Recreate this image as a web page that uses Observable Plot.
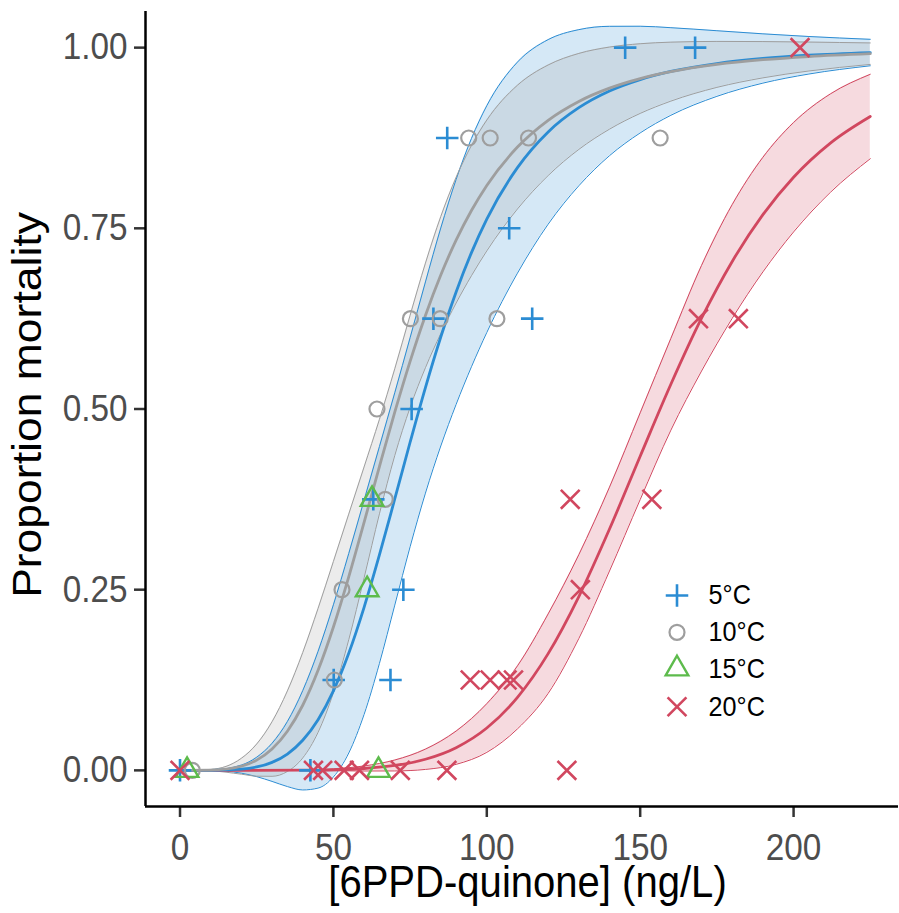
<!DOCTYPE html>
<html>
<head>
<meta charset="utf-8">
<script src="https://cdn.jsdelivr.net/npm/d3@7"></script>
<script src="https://cdn.jsdelivr.net/npm/@observablehq/plot@0.6"></script>
<style>html,body{margin:0;padding:0;background:#fff;}</style>
</head>
<body>
<div id="chart"></div>
<script>
// ---------------- data ----------------
const series = ["5°C", "10°C", "15°C", "20°C"];
const seriesColors = ["#2B8CD3", "#9E9E9E", "#5DBB4C", "#D1475F"];
const seriesSymbols = ["plus", "circle", "triangle2", "times"];

const xTicks = [0, 50, 100, 150, 200];
const yTicks = [0, 0.25, 0.5, 0.75, 1];
const xTitle = "[6PPD-quinone] (ng/L)";
const yTitle = "Proportion mortality";

// observed proportions
const obs5x  = [0, 42.5, 50.1, 68.6, 72.8, 63.0, 75.5, 82.6, 114.8, 107.3, 87.1, 145.1, 167.9];
const obs5y  = [0, 0, 0.125, 0.125, 0.25, 0.375, 0.5, 0.625, 0.625, 0.75, 0.875, 1, 1];
const obs10x = [4.0, 50.3, 52.8, 66.9, 64.2, 75.1, 84.8, 103.3, 94.1, 101.1, 113.6, 156.5];
const obs10y = [0, 0.125, 0.25, 0.375, 0.5, 0.625, 0.625, 0.625, 0.875, 0.875, 0.875, 0.875];
const obs15x = [2.3, 64.7, 61.0, 62.6];
const obs15y = [0, 0, 0.25, 0.375];
const obs20x = [0, 43.5, 46.5, 53.5, 58.5, 71.8, 87.0, 126.1, 94.6, 101.1, 106.6, 108.7, 130.5, 127.2, 153.8, 169.0, 182.0, 202.1];
const obs20y = [0, 0, 0, 0, 0, 0, 0, 0, 0.125, 0.125, 0.125, 0.125, 0.25, 0.375, 0.375, 0.625, 0.625, 1];

// fitted dose-response curves with confidence bands
const curveX5 = [0, 10, 20, 25, 30, 35, 40, 45, 50, 55, 60, 65, 70, 75, 80, 85, 90, 95, 100, 110, 120, 130, 140, 150, 160, 175, 190, 205, 225];
const fit5 = [0, 0.0001, 0.0017, 0.0047, 0.0111, 0.0226, 0.0416, 0.0701, 0.110, 0.162, 0.2256, 0.298, 0.3755, 0.454, 0.5297, 0.5996, 0.662, 0.7164, 0.7628, 0.834, 0.8834, 0.9169, 0.940, 0.9558, 0.967, 0.978, 0.985, 0.9895, 0.9932];
const lo5  = [0, -0.0002, -0.0039, -0.0087, -0.0153, -0.0224, -0.0271, -0.0245, -0.0091, 0.024, 0.0774, 0.148, 0.2286, 0.3094, 0.3836, 0.4488, 0.5064, 0.5585, 0.6059, 0.688, 0.7557, 0.8089, 0.8505, 0.882, 0.9064, 0.9326, 0.9509, 0.9635, 0.9749];
const hi5  = [0, 0.0004, 0.0073, 0.0182, 0.0375, 0.0676, 0.1103, 0.1647, 0.2291, 0.300, 0.3738, 0.448, 0.5224, 0.5986, 0.6758, 0.7504, 0.8176, 0.8743, 0.9197, 0.980, 1.0111, 1.0249, 1.0295, 1.0296, 1.0276, 1.0234, 1.0191, 1.0154, 1.0115];

const curveX10 = [0, 10, 20, 25, 30, 35, 40, 45, 50, 55, 60, 65, 70, 75, 80, 85, 90, 95, 100, 110, 120, 130, 140, 150, 160, 175, 190, 205, 225];
const fit10 = [0, 0.0003, 0.0057, 0.0142, 0.0296, 0.0542, 0.0901, 0.1384, 0.1983, 0.2677, 0.3431, 0.4203, 0.4956, 0.5659, 0.6295, 0.6854, 0.7336, 0.7746, 0.8093, 0.8624, 0.8995, 0.9256, 0.944, 0.9572, 0.9668, 0.9768, 0.9833, 0.9877, 0.9916];
const lo10  = [0, -0.0007, -0.0053, -0.008, -0.0082, -0.0015, 0.0172, 0.0527, 0.1076, 0.1808, 0.2664, 0.355, 0.4356, 0.5022, 0.5572, 0.6045, 0.6466, 0.6845, 0.7188, 0.7768, 0.823, 0.8592, 0.8872, 0.909, 0.926, 0.945, 0.9582, 0.9677, 0.9768];
const hi10  = [0, 0.0013, 0.0167, 0.0365, 0.0673, 0.1099, 0.163, 0.2241, 0.289, 0.3546, 0.4198, 0.4856, 0.5556, 0.6296, 0.7018, 0.7663, 0.8206, 0.8647, 0.8998, 0.948, 0.976, 0.992, 1.0008, 1.0054, 1.0076, 1.0086, 1.0084, 1.0077, 1.0065];

const curveX20 = [0, 20, 40, 50, 60, 70, 80, 90, 100, 110, 120, 130, 140, 150, 160, 170, 180, 190, 200, 212, 225];
const fit20 = [0, 0, 0.0002, 0.0008, 0.0026, 0.0068, 0.0154, 0.0314, 0.0586, 0.101, 0.1615, 0.2405, 0.3339, 0.4347, 0.5342, 0.6256, 0.7042, 0.769, 0.8207, 0.8679, 0.9047];
const lo20  = [0, 0, -0.0002, -0.0005, -0.0009, -0.0008, 0.0013, 0.0083, 0.0249, 0.0574, 0.1065, 0.1825, 0.2759, 0.3747, 0.4707, 0.5525, 0.6255, 0.6897, 0.745, 0.7998, 0.8463];
const hi20  = [0, 0, 0.0006, 0.0022, 0.0061, 0.0143, 0.0294, 0.0544, 0.0923, 0.1446, 0.2165, 0.2985, 0.3919, 0.4947, 0.5977, 0.6987, 0.7829, 0.8483, 0.8964, 0.936, 0.9631];

// ---------------- layout ----------------
const W = 899, H = 913;
const xDomain = [-11.25, 234.2];
const yDomain = [-0.05, 1.05];
const legendSymbolX = 162, legendTextX = 172.3;
const legendRowsY = [0.242, 0.191, 0.1405, 0.088];
const symbolR = [7.3, 7.5, 10.8, 8.6];
const symbolW = [2.6, 2.2, 2.4, 2.6];
const textSquash = 0.9; // the reference text is horizontally condensed

// ---------------- tables ----------------
const obs = [[obs5x, obs5y], [obs10x, obs10y], [obs15x, obs15y], [obs20x, obs20y]];
const curves = [
  {i: 0, x: curveX5, fit: fit5, lo: lo5, hi: hi5},
  {i: 1, x: curveX10, fit: fit10, lo: lo10, hi: hi10},
  {i: 3, x: curveX20, fit: fit20, lo: lo20, hi: hi20}
];
const curveTables = curves.map(c => ({i: c.i, rows: c.x.map((x, k) => ({x, fit: c.fit[k], lo: c.lo[k], hi: c.hi[k]}))}));
const pointTables = obs.map(([xs, ys]) => xs.map((x, k) => ({x, y: ys[k]})));
const legendRows = series.map((s, i) => ({label: s, i, y: legendRowsY[i]}));

const marks = [];
// ribbons
for (const c of curveTables) {
  marks.push(Plot.areaY(c.rows, {x: "x", y1: "lo", y2: "hi", fill: seriesColors[c.i], fillOpacity: 0.2, curve: "monotone-x"}));
}
for (const c of curveTables) {
  marks.push(Plot.lineY(c.rows, {x: "x", y: "lo", stroke: seriesColors[c.i], strokeWidth: 1, curve: "monotone-x"}));
  marks.push(Plot.lineY(c.rows, {x: "x", y: "hi", stroke: seriesColors[c.i], strokeWidth: 1, curve: "monotone-x"}));
}
// fitted lines
for (const c of [curveTables[2], curveTables[0], curveTables[1]]) {
  marks.push(Plot.lineY(c.rows, {x: "x", y: "fit", stroke: seriesColors[c.i], strokeWidth: 2.8, curve: "monotone-x"}));
}
// observed points
pointTables.forEach((t, i) => {
  marks.push(Plot.dot(t, {x: "x", y: "y", symbol: seriesSymbols[i], r: symbolR[i], stroke: seriesColors[i], fill: "none", strokeWidth: symbolW[i]}));
});
// legend
legendRows.forEach(d => {
  marks.push(Plot.dot([d], {x: () => legendSymbolX, y: "y", symbol: seriesSymbols[d.i], r: symbolR[d.i], stroke: seriesColors[d.i], fill: "none", strokeWidth: symbolW[d.i]}));
});
marks.push(Plot.text(legendRows, {x: () => legendTextX, y: "y", text: "label", textAnchor: "start", lineAnchor: "middle", fontSize: 28, fill: "#000"}));

// axes
marks.push(Plot.axisY({ticks: yTicks, tickFormat: d => d.toFixed(2), tickSize: 11, tickPadding: 7, fontSize: 37, stroke: "#333", strokeWidth: 2.5, fill: "#4D4D4D", label: null}));
marks.push(Plot.axisX({ticks: xTicks, tickFormat: d => String(d), tickSize: 11, tickPadding: 16, fontSize: 37, stroke: "#333", strokeWidth: 2.5, fill: "#4D4D4D", label: null}));
marks.push(Plot.ruleX([xDomain[0]], {stroke: "#000", strokeWidth: 2.5}));
marks.push(Plot.ruleY([yDomain[0]], {stroke: "#000", strokeWidth: 2.5}));
// titles
marks.push(Plot.text([yTitle], {text: d => d, frameAnchor: "left", textAnchor: "middle", lineAnchor: "middle", dx: -117, dy: -4, rotate: -90, fontSize: 44.5, fill: "#000"}));
marks.push(Plot.text([xTitle], {text: d => d, frameAnchor: "bottom", textAnchor: "middle", lineAnchor: "middle", dx: 5.5, dy: 76, fontSize: 44.5, fill: "#000"}));

const chart = Plot.plot({
  width: W,
  height: H,
  marginLeft: 145,
  marginRight: 1,
  marginTop: 11,
  marginBottom: 107,
  style: {fontFamily: "'Liberation Sans', Arial, sans-serif", background: "#fff", color: "#000"},
  x: {domain: xDomain, axis: null, label: null},
  y: {domain: yDomain, axis: null, label: null},
  marks
});

// condense the text horizontally, as in the reference
chart.querySelectorAll("text").forEach(t => {
  const tr = t.getAttribute("transform") || "";
  if (/rotate/.test(tr)) {
    t.setAttribute("transform", tr + ` scale(1,${textSquash})`);
  } else if (tr) {
    t.setAttribute("transform", tr + ` scale(${textSquash},1)`);
  } else {
    const x = +t.getAttribute("x") || 0, y = +t.getAttribute("y") || 0;
    t.setAttribute("transform", `translate(${x},${y}) scale(${textSquash},1) translate(${-x},${-y})`);
  }
});
document.getElementById("chart").appendChild(chart);
</script>
</body>
</html>
